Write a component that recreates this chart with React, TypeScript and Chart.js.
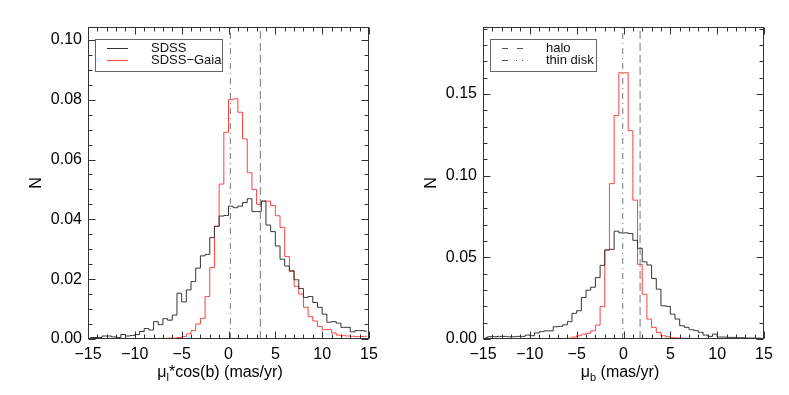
import React, { useEffect, useRef } from 'react';
import { Chart, registerables } from 'chart.js';
Chart.register(...registerables);

// ---- data ----
const BIN_CENTERS = [
  -14.75, -14.25, -13.75, -13.25, -12.75, -12.25, -11.75, -11.25, -10.75, -10.25,
  -9.75, -9.25, -8.75, -8.25, -7.75, -7.25, -6.75, -6.25, -5.75, -5.25,
  -4.75, -4.25, -3.75, -3.25, -2.75, -2.25, -1.75, -1.25, -0.75, -0.25,
  0.25, 0.75, 1.25, 1.75, 2.25, 2.75, 3.25, 3.75, 4.25, 4.75,
  5.25, 5.75, 6.25, 6.75, 7.25, 7.75, 8.25, 8.75, 9.25, 9.75,
  10.25, 10.75, 11.25, 11.75, 12.25, 12.75, 13.25, 13.75, 14.25, 14.75,
];

const SDSS_MUL = [
  0.0005, 0.0005, 0.0005, 0.001, 0.001, 0.0007, 0.0005, 0.0015, 0.001, 0.0012,
  0.0015, 0.0025, 0.0035, 0.003, 0.0058, 0.0048, 0.0068, 0.0063, 0.008, 0.0153,
  0.0124, 0.0164, 0.0192, 0.0237, 0.0278, 0.0283, 0.0339, 0.0377, 0.0411, 0.0413,
  0.0444, 0.0439, 0.0444, 0.0456, 0.0469, 0.0426, 0.0426, 0.0461, 0.0381, 0.0359,
  0.0311, 0.0267, 0.0244, 0.0228, 0.0198, 0.0169, 0.0139, 0.0142, 0.0122, 0.0106,
  0.0083, 0.0056, 0.0058, 0.0053, 0.0039, 0.0039, 0.0024, 0.0028, 0.0028, 0.0026,
];

const GAIA_MUL = [
  0, 0, 0, 0, 0, 0, 0, 0, 0, 0,
  0, 0, 0, 0, 0, 0.0002, 0.0002, 0.0003, 0.0003, 0.0005,
  0.0008, 0.0017, 0.0028, 0.005, 0.0069, 0.0142, 0.0239, 0.0376, 0.0518, 0.0691,
  0.08, 0.0803, 0.0758, 0.0669, 0.0556, 0.05, 0.045, 0.0461, 0.0461, 0.0446,
  0.0412, 0.0373, 0.0276, 0.0226, 0.0176, 0.015, 0.0106, 0.0075, 0.006, 0.0042,
  0.0031, 0.0032, 0.002, 0.0013, 0.0011, 0.001, 0.0009, 0.0008, 0.0008, 0.0009,
];

const SDSS_MUB = [
  0.001, 0.0014, 0.0014, 0.0016, 0.0016, 0.0014, 0.0014, 0.0016, 0.0016, 0.0024,
  0.002, 0.0037, 0.0045, 0.005, 0.005, 0.0075, 0.0077, 0.0087, 0.0106, 0.0157,
  0.0173, 0.0254, 0.0299, 0.0317, 0.0376, 0.0451, 0.0545, 0.0549, 0.066, 0.065,
  0.065, 0.0646, 0.0604, 0.0555, 0.0472, 0.0453, 0.037, 0.0305, 0.0203, 0.02,
  0.0152, 0.0122, 0.0081, 0.0071, 0.0057, 0.0051, 0.0041, 0.0024, 0.0016, 0.003,
  0.0012, 0.0012, 0.001, 0.001, 0.0008, 0.0008, 0.0006, 0.0006, 0.0005, 0.0005,
];

const GAIA_MUB = [
  0, 0, 0, 0, 0, 0, 0, 0, 0, 0,
  0, 0, 0, 0, 0, 0.0001, 0.0002, 0.0003, 0.0005, 0.0012,
  0.002, 0.003, 0.0035, 0.005, 0.0085, 0.0199, 0.0545, 0.0951, 0.1368, 0.163,
  0.163, 0.1276, 0.085, 0.0457, 0.0274, 0.0122, 0.0071, 0.004, 0.002, 0.0014,
  0.0008, 0.0006, 0.0005, 0.0004, 0.0003, 0.0002, 0.0002, 0.0002, 0.0001, 0.0001,
  0.0001, 0.0001, 0.0001, 0.0001, 0.0001, 0, 0, 0, 0, 0,
];

const HALO_MUL = 3.4;
const DISK_MUL = 0.2;
const HALO_MUB = 1.77;
const DISK_MUB = -0.08;

const X_TICKS_STEP = 5;
const LEFT_Y_STEP = 0.02;
const RIGHT_Y_STEP = 0.05;

// ---- styles ----
const FONT = '"Liberation Sans", Arial, Helvetica, sans-serif';
const BLACK = '#333333';
const RED = '#ff4040';
const REF = '#777777';
const FRAME = '#333333';
const DASH = [8, 4];
const DASHDOT = [6, 4, 1, 4];

const fmtX = (v: number) => (v < 0 ? '\u2212' + Math.abs(v) : String(v));

type Cfg = {
  black: number[];
  red: number[];
  halo: number;
  disk: number;
  yMax: number;
  yStep: number;
  yMinorPerMajor: number;
  sub: string;
  titleCx: number;
  rightPad: number;
  legend: { label: string; color: string; dash: number[] }[];
  legendW: number;
};

function decorPlugin(cfg: Cfg) {
  return {
    id: 'decor',
    afterDatasetsDraw(chart: any) {
      const ctx = chart.ctx as CanvasRenderingContext2D;
      const { left, right, top, bottom } = chart.chartArea;
      const xs = chart.scales.x;
      const ys = chart.scales.y;
      const L = Math.round(left) + 0.5;
      const R = Math.round(right) - 0.5;
      const T = Math.round(top) + 0.5;
      const B = Math.round(bottom) - 0.5;
      ctx.save();
      ctx.setLineDash([]);
      ctx.strokeStyle = FRAME;
      ctx.lineWidth = 1;
      ctx.strokeRect(L, T, R - L, B - T);
      // x ticks (minor step 1)
      ctx.beginPath();
      for (let k = Math.ceil(xs.min); k <= Math.floor(xs.max); k++) {
        const len = k % X_TICKS_STEP === 0 ? 7 : 4;
        const px = Math.round(xs.getPixelForValue(k)) + 0.5;
        ctx.moveTo(px, B);
        ctx.lineTo(px, B - len);
        ctx.moveTo(px, T);
        ctx.lineTo(px, T + len);
      }
      // y ticks
      const minor = cfg.yStep / cfg.yMinorPerMajor;
      const nMax = Math.floor(ys.max / minor + 1e-6);
      for (let k = 0; k <= nMax; k++) {
        const len = k % cfg.yMinorPerMajor === 0 ? 7 : 4;
        const py = Math.round(ys.getPixelForValue(k * minor)) + 0.5;
        ctx.moveTo(L, py);
        ctx.lineTo(L + len, py);
        ctx.moveTo(R, py);
        ctx.lineTo(R - len, py);
      }
      ctx.stroke();

      // legend box
      const bx = 95.5, by = 39.5, bh = 32;
      ctx.strokeStyle = '#666';
      ctx.strokeRect(bx, by, cfg.legendW, bh);
      ctx.font = `13px ${FONT}`;
      ctx.textBaseline = 'middle';
      ctx.textAlign = 'left';
      cfg.legend.forEach((it, i) => {
        const y = 48.5 + i * 12;
        ctx.strokeStyle = it.color;
        ctx.setLineDash(it.dash);
        ctx.beginPath();
        ctx.moveTo(107, y);
        ctx.lineTo(128, y);
        ctx.stroke();
        ctx.setLineDash([]);
        ctx.fillStyle = '#111';
        ctx.fillText(it.label, 151, y);
      });

      // axis titles
      ctx.fillStyle = '#000';
      ctx.textBaseline = 'alphabetic';
      const big = `16px ${FONT}`;
      const small = `11px ${FONT}`;
      const rest = cfg.sub === 'l' ? '*cos(b) (mas/yr)' : ' (mas/yr)';
      ctx.font = big;
      const w1 = ctx.measureText('\u03bc').width;
      const w3 = ctx.measureText(rest).width;
      ctx.font = small;
      const w2 = ctx.measureText(cfg.sub).width;
      let x0 = cfg.titleCx - (w1 + w2 + w3) / 2;
      const base = 377;
      ctx.font = big;
      ctx.fillText('\u03bc', x0, base);
      ctx.font = small;
      ctx.fillText(cfg.sub, x0 + w1, base + 4);
      ctx.font = big;
      ctx.fillText(rest, x0 + w1 + w2, base);

      // N
      ctx.save();
      ctx.translate(41, (top + bottom) / 2);
      ctx.rotate(-Math.PI / 2);
      ctx.textAlign = 'center';
      ctx.font = big;
      ctx.fillText('N', 0, 0);
      ctx.restore();
      ctx.restore();
    },
  };
}

function buildChart(canvas: HTMLCanvasElement, cfg: Cfg) {
  const hist = (vals: number[], color: string) => ({
    data: BIN_CENTERS.map((c, i) => ({ x: c, y: vals[i] })),
    borderColor: color,
    borderWidth: 1,
    pointRadius: 0,
    stepped: 'middle' as const,
    fill: false,
  });
  const vline = (x: number, dash: number[]) => ({
    data: [{ x, y: 0 }, { x, y: cfg.yMax }],
    borderColor: REF,
    borderWidth: 1,
    borderDash: dash,
    pointRadius: 0,
    fill: false,
  });
  return new Chart(canvas, {
    type: 'line',
    data: {
      datasets: [
        vline(cfg.disk, DASHDOT),
        vline(cfg.halo, DASH),
        hist(cfg.black, BLACK),
        hist(cfg.red, RED),
      ] as any,
    },
    options: {
      responsive: false,
      animation: false,
      events: [],
      layout: { padding: { top: 27, right: cfg.rightPad, left: 0, bottom: 0 } },
      plugins: { legend: { display: false }, tooltip: { enabled: false } },
      scales: {
        x: {
          type: 'linear',
          min: -15,
          max: 15,
          afterFit: (s: any) => {
            s.height = 56;
          },
          grid: { display: false, drawTicks: false },
          border: { display: false },
          ticks: {
            stepSize: X_TICKS_STEP,
            includeBounds: false,
            autoSkip: false,
            maxRotation: 0,
            padding: 6,
            color: '#000',
            font: { family: FONT, size: 16 },
            callback: (v: any) => fmtX(Number(v)),
          },
        },
        y: {
          type: 'linear',
          min: 0,
          max: cfg.yMax,
          afterFit: (s: any) => {
            s.width = 88;
          },
          grid: { display: false, drawTicks: false },
          border: { display: false },
          ticks: {
            stepSize: cfg.yStep,
            includeBounds: false,
            autoSkip: false,
            padding: 6,
            color: '#000',
            font: { family: FONT, size: 16 },
            callback: (v: any) => Number(v).toFixed(2),
          },
        },
      },
    } as any,
    plugins: [decorPlugin(cfg)],
  });
}

export default function App() {
  const leftRef = useRef<HTMLCanvasElement>(null);
  const rightRef = useRef<HTMLCanvasElement>(null);

  useEffect(() => {
    const c1 = buildChart(leftRef.current!, {
      black: SDSS_MUL,
      red: GAIA_MUL,
      halo: HALO_MUL,
      disk: DISK_MUL,
      yMax: 0.1043,
      yStep: LEFT_Y_STEP,
      yMinorPerMajor: 4,
      sub: 'l',
      titleCx: 220,
      rightPad: 26,
      legend: [
        { label: 'SDSS', color: BLACK, dash: [] },
        { label: 'SDSS\u2212Gaia', color: RED, dash: [] },
      ],
      legendW: 127,
    });
    const c2 = buildChart(rightRef.current!, {
      black: SDSS_MUB,
      red: GAIA_MUB,
      halo: HALO_MUB,
      disk: DISK_MUB,
      yMax: 0.191,
      yStep: RIGHT_Y_STEP,
      yMinorPerMajor: 5,
      sub: 'b',
      titleCx: 225,
      rightPad: 25,
      legend: [
        { label: 'halo', color: '#555', dash: [6, 9] },
        { label: 'thin disk', color: '#555', dash: [6, 8, 1, 5] },
      ],
      legendW: 106,
    });
    return () => {
      c1.destroy();
      c2.destroy();
    };
  }, []);

  return (
    <div style={{ position: 'absolute', left: 0, top: 0, width: 789, height: 395, background: '#fff' }}>
      <canvas ref={leftRef} width={395} height={395} style={{ position: 'absolute', left: 0, top: 0 }} />
      <canvas ref={rightRef} width={394} height={395} style={{ position: 'absolute', left: 395, top: 0 }} />
    </div>
  );
}
